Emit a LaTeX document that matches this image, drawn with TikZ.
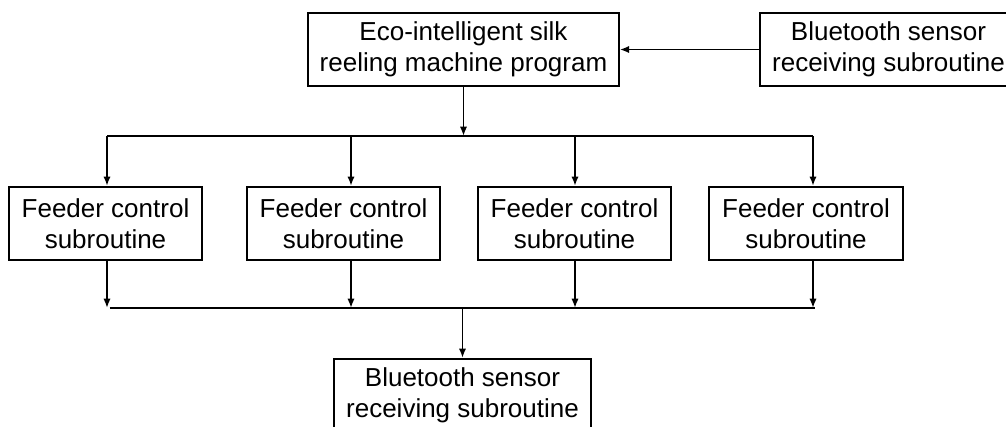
\documentclass[tikz,border=0pt]{standalone}
\usepackage{fontspec}
\setmainfont{Liberation Sans}
\usetikzlibrary{arrows.meta}

\begin{document}
\begin{tikzpicture}[x=0.75pt,y=-0.75pt,line width=1.4pt,
        box/.style={draw,align=center,inner sep=0pt,minimum height=55pt,
            font=\fontsize{19.5}{23.5}\selectfont},
        flow/.style={-{Latex[length=7pt,width=5.5pt]}}]
            \useasboundingbox (0,0) rectangle (1006,426);
            \clip (0,0) rectangle (1006,426);
            \node[box,minimum width=233pt] (main) at (463.5,49.5) {Eco-intelligent silk\\reeling machine program};
            \node[box,minimum width=193pt] (bt) at (888.5,49.5) {Bluetooth sensor\\receiving subroutine};
            \draw[flow] (bt.west)--(main.east);
            \foreach \i/\x/\a in {1/105.5/107,2/343.5/351,3/574.5/575,4/806/813}{
                \node[box,minimum width=145pt] (f\i) at (\x,223.5) {Feeder control\\subroutine};
                \coordinate (t\i) at (\a,136);
                \coordinate (b\i) at (\a,308);
                \draw[flow] (t\i)--(t\i |- f\i.north);
                \draw[flow] (f\i.south -| t\i)--(b\i);
            }
            \draw (t1)--(t4);
            \draw[flow] (main.south)--(main.south |- t1);
            \draw ([xshift=2pt]b1)--([xshift=1.5pt]b4);
            \node[box,minimum width=193pt] (out) at (462.5,395.5) {Bluetooth sensor\\receiving subroutine};
            \draw[flow] (out.north |- b1)--(out.north);
        \end{tikzpicture}
\end{document}
